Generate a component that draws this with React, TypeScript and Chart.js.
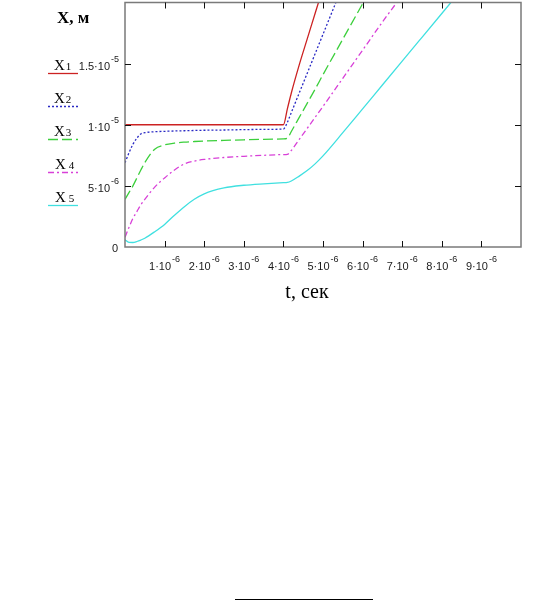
import React, { useEffect, useRef } from "react";
import { Chart, registerables } from "chart.js";

Chart.register(...registerables);

// time samples, in microseconds (×1e-6 s)
const T_US = [0, 0.1, 0.2, 0.3, 0.4, 0.5, 0.75, 1.0, 1.25, 1.5, 1.75, 2.0, 2.5, 3.0, 3.5, 4.0, 4.1, 4.2, 4.4, 4.6, 4.8, 5.0, 5.5, 6.0, 6.5, 7.0, 7.5, 8.0, 8.5];

// displacement values, in units of 1e-5 m
const X1 = [1.0, 1.0, 1.0, 1.0, 1.0, 1.0, 1.0, 1.0, 1.0, 1.0, 1.0, 1.0, 1.0, 1.0, 1.0, 1.0, 1.13, 1.26, 1.49, 1.70, 1.91, 2.12, null, null, null, null, null, null, null];
const X2 = [0.69, 0.77, 0.84, 0.89, 0.925, 0.935, 0.943, 0.946, 0.949, 0.951, 0.953, 0.955, 0.957, 0.96, 0.962, 0.965, 1.02, 1.10, 1.26, 1.42, 1.58, 1.74, 2.14, null, null, null, null, null, null];
const X3 = [0.39, 0.445, 0.50, 0.565, 0.63, 0.69, 0.80, 0.835, 0.85, 0.858, 0.863, 0.867, 0.872, 0.877, 0.881, 0.884, 0.89, 0.945, 1.06, 1.175, 1.29, 1.41, 1.70, 1.99, 2.28, null, null, null, null];
const X4 = [0.08, 0.16, 0.235, 0.29, 0.345, 0.39, 0.49, 0.565, 0.63, 0.68, 0.703, 0.716, 0.732, 0.742, 0.75, 0.756, 0.758, 0.79, 0.88, 0.97, 1.06, 1.15, 1.38, 1.61, 1.84, 2.06, null, null, null];
const X5 = [0.06, 0.038, 0.037, 0.045, 0.057, 0.072, 0.125, 0.185, 0.26, 0.33, 0.39, 0.435, 0.483, 0.505, 0.517, 0.526, 0.528, 0.54, 0.58, 0.625, 0.68, 0.745, 0.935, 1.13, 1.325, 1.52, 1.715, 1.91, 2.105];

const SERIES = [X1, X2, X3, X4, X5];
const SERIES_SUB = ["1", "2", "3", "4", "5"];
const SERIES_COLORS = ["#cc2222", "#2a2ac4", "#3ccf3c", "#d840d8", "#40e0e0"];
const SERIES_DASH: number[][] = [[], [2, 2], [10, 4], [6, 3, 2, 3], []];

const X_MIN = 0;
const X_MAX = 1e-5;
const Y_MIN = 0;
const Y_MAX = 2e-5;

const X_TICKS = [1e-6, 2e-6, 3e-6, 4e-6, 5e-6, 6e-6, 7e-6, 8e-6, 9e-6];
const X_TICK_MANT = ["1·10", "2·10", "3·10", "4·10", "5·10", "6·10", "7·10", "8·10", "9·10"];
const X_TICK_EXP = ["-6", "-6", "-6", "-6", "-6", "-6", "-6", "-6", "-6"];

const Y_TICKS = [5e-6, 1e-5, 1.5e-5];
const Y_TICK_MANT = ["5·10", "1·10", "1.5·10"];
const Y_TICK_EXP = ["-6", "-5", "-5"];

const Y_TITLE = "X, м";
const X_TITLE = "t, сек";
const LEGEND_LETTER = "X";

const SANS = "'Liberation Sans', Arial, sans-serif";
const SERIF = "'Liberation Serif', 'Times New Roman', serif";

function drawSci(ctx: CanvasRenderingContext2D, mant: string, exp: string, x: number, baseline: number, align: "center" | "right") {
  ctx.font = `11px ${SANS}`;
  const wm = ctx.measureText(mant).width;
  ctx.font = `9px ${SANS}`;
  const we = ctx.measureText(exp).width;
  const total = wm + 1 + we;
  const start = align === "center" ? x - total / 2 : x - total;
  ctx.textAlign = "left";
  ctx.textBaseline = "alphabetic";
  ctx.font = `11px ${SANS}`;
  ctx.fillText(mant, start, baseline);
  ctx.font = `9px ${SANS}`;
  ctx.fillText(exp, start + wm + 1, baseline - 8);
}

const mathcadPlugin = {
  id: "mathcadDecor",
  afterDraw(chart: any) {
    const { ctx, chartArea: a, scales } = chart;
    const xs = scales.x;
    const ys = scales.y;
    ctx.save();

    // frame
    ctx.strokeStyle = "#7a7a7a";
    ctx.lineWidth = 1.5;
    ctx.setLineDash([]);
    ctx.strokeRect(a.left, a.top, a.right - a.left, a.bottom - a.top);

    // inward ticks
    ctx.strokeStyle = "#111";
    ctx.lineWidth = 1;
    const tl = 6;
    X_TICKS.forEach((v) => {
      const px = Math.round(xs.getPixelForValue(v)) + 0.5;
      ctx.beginPath();
      ctx.moveTo(px, a.bottom);
      ctx.lineTo(px, a.bottom - tl);
      ctx.moveTo(px, a.top);
      ctx.lineTo(px, a.top + tl);
      ctx.stroke();
    });
    Y_TICKS.forEach((v) => {
      const py = Math.round(ys.getPixelForValue(v)) + 0.5;
      ctx.beginPath();
      ctx.moveTo(a.left, py);
      ctx.lineTo(a.left + tl, py);
      ctx.moveTo(a.right, py);
      ctx.lineTo(a.right - tl, py);
      ctx.stroke();
    });

    // tick labels
    ctx.fillStyle = "#1a1a1a";
    X_TICKS.forEach((v, i) => {
      const px = xs.getPixelForValue(v);
      drawSci(ctx, X_TICK_MANT[i], X_TICK_EXP[i], px, a.bottom + 23, "center");
    });
    Y_TICKS.forEach((v, i) => {
      const py = ys.getPixelForValue(v);
      drawSci(ctx, Y_TICK_MANT[i], Y_TICK_EXP[i], a.left - 6, py + 6.5, "right");
    });
    ctx.font = `11px ${SANS}`;
    ctx.textAlign = "right";
    ctx.fillText("0", a.left - 7, ys.getPixelForValue(0) + 5);

    // titles
    ctx.fillStyle = "#000";
    ctx.font = `bold 17px ${SERIF}`;
    ctx.textAlign = "left";
    ctx.fillText(Y_TITLE, 57, 23);
    ctx.font = `20px ${SERIF}`;
    ctx.textAlign = "center";
    ctx.fillText(X_TITLE, 307, 298);

    // legend
    const baselines = [70, 103, 136, 169, 202];
    chart.data.datasets.forEach((ds: any, i: number) => {
      const b = baselines[i];
      ctx.fillStyle = "#000";
      ctx.textAlign = "left";
      ctx.font = `15px ${SERIF}`;
      const tx = i < 3 ? 54 : 55;
      ctx.fillText(LEGEND_LETTER, tx, b);
      const w = ctx.measureText(LEGEND_LETTER).width;
      ctx.font = `11px ${SERIF}`;
      ctx.fillText(SERIES_SUB[i], tx + w + (i < 3 ? 1 : 3), b);
      ctx.strokeStyle = ds.borderColor;
      ctx.lineWidth = 1.3;
      ctx.setLineDash(ds.borderDash || []);
      ctx.beginPath();
      ctx.moveTo(48, b + 3.5);
      ctx.lineTo(78, b + 3.5);
      ctx.stroke();
    });

    ctx.restore();
  },
};

export default function App() {
  const canvasRef = useRef<HTMLCanvasElement | null>(null);

  useEffect(() => {
    const canvas = canvasRef.current;
    if (!canvas) return;
    const datasets = SERIES.map((vals, i) => ({
      label: "X" + SERIES_SUB[i],
      data: T_US.map((t, j) => ({ x: t * 1e-6, y: vals[j] === null ? null : (vals[j] as number) * 1e-5 })),
      borderColor: SERIES_COLORS[i],
      borderWidth: 1.3,
      borderDash: SERIES_DASH[i],
      pointRadius: 0,
      fill: false,
      cubicInterpolationMode: "monotone" as const,
      spanGaps: false,
    }));
    const chart = new Chart(canvas, {
      type: "line",
      data: { datasets },
      options: {
        animation: false,
        responsive: false,
        maintainAspectRatio: false,
        devicePixelRatio: 1,
        layout: { padding: { left: 125, right: 15, top: 2.5, bottom: 73 } },
        scales: {
          x: { type: "linear", min: X_MIN, max: X_MAX, display: false },
          y: { type: "linear", min: Y_MIN, max: Y_MAX, display: false },
        },
        plugins: {
          legend: { display: false },
          tooltip: { enabled: false },
        },
        events: [],
      },
      plugins: [mathcadPlugin],
    });
    return () => chart.destroy();
  }, []);

  return (
    <div style={{ position: "absolute", left: 0, top: 0, width: 536, height: 600, background: "#fff", overflow: "hidden" }}>
      <canvas ref={canvasRef} width={536} height={320} style={{ display: "block", width: 536, height: 320 }} />
      <div style={{ position: "absolute", left: 235, top: 599, width: 138, height: 1, background: "#000" }} />
    </div>
  );
}
